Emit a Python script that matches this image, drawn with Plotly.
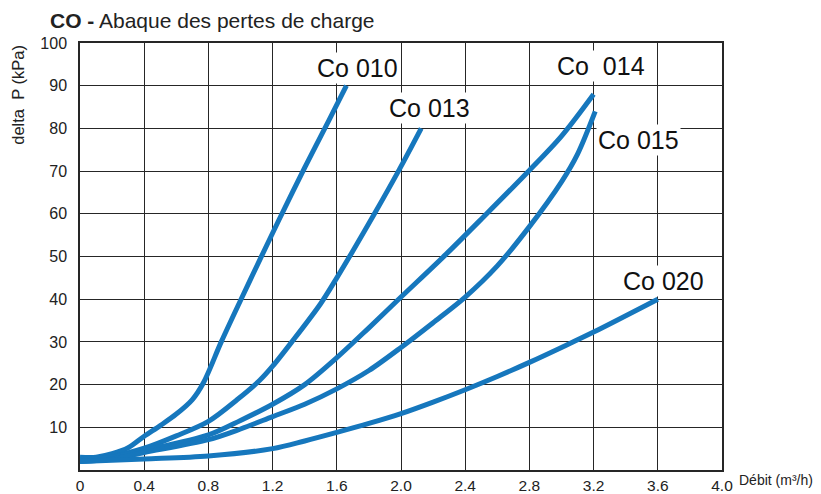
import plotly.graph_objects as go

# ---- data ----
co010_x = [0, 0.1, 0.2, 0.3, 0.4, 0.5, 0.6, 0.7, 0.77, 0.88, 1.0, 1.12, 1.24, 1.4, 1.55, 1.66]
co010_y = [3.0, 3.0, 3.8, 5.2, 7.9, 10.4, 13.1, 16.5, 20.5, 30, 39.7, 49.2, 58.6, 70.8, 81.8, 90]

co013_x = [0, 0.2, 0.4, 0.6, 0.8, 0.98, 1.12, 1.2, 1.32, 1.5, 1.6, 1.7, 1.83, 1.99, 2.126]
co013_y = [2.5, 3.2, 5.1, 8.0, 11.4, 16.5, 21.0, 24.3, 30, 39, 45, 51.3, 59.7, 70.4, 80]

co014_x = [0, 0.2, 0.4, 0.8, 1.0, 1.2, 1.4, 1.6, 1.8, 2.0, 2.28, 2.52, 2.79, 3.0, 3.2]
co014_y = [2.2, 3.0, 4.6, 8.2, 11.6, 15.4, 20, 26.3, 33.3, 40.5, 50.5, 59.5, 69.8, 78.2, 88]

co015_x = [0, 0.2, 0.4, 0.8, 1.0, 1.2, 1.4, 1.6, 1.8, 2.0, 2.2, 2.4, 2.6, 2.8, 3.0, 3.1, 3.21]
co015_y = [2.0, 2.6, 4.1, 7.1, 9.6, 12.5, 15.4, 19, 23.3, 28.7, 34.5, 40.5, 47.8, 57, 67.5, 74, 84]

co020_x = [0, 0.4, 0.8, 1.2, 1.4, 1.6, 1.8, 2.0, 2.2, 2.4, 2.6, 2.8, 3.0, 3.2, 3.6]
co020_y = [2.0, 2.6, 3.3, 5.0, 6.8, 8.8, 10.9, 13.2, 15.9, 18.8, 21.9, 25.2, 28.7, 32.3, 40]

series_names = ["Co 010", "Co 013", "Co 014", "Co 015", "Co 020"]
series_x = [co010_x, co013_x, co014_x, co015_x, co020_x]
series_y = [co010_y, co013_y, co014_y, co015_y, co020_y]

# label anchor positions (data coords)
label_x = [1.729, 2.178, 3.243, 3.48, 3.636]
label_y = [94.1, 84.7, 94.6, 77.2, 44.2]
label_text = ["Co 010", "Co 013", "Co  014", "Co 015", "Co 020"]

x_ticks = [0, 0.4, 0.8, 1.2, 1.6, 2.0, 2.4, 2.8, 3.2, 3.6, 4.0]
x_ticktext = ["0", "0.4", "0.8", "1.2", "1.6", "2.0", "2.4", "2.8", "3.2", "3.6", "4.0"]
y_ticks = [10, 20, 30, 40, 50, 60, 70, 80, 90, 100]

BLUE = "#1677bd"
GRID = "#262626"
FONT = "Liberation Sans, Arial, sans-serif"

fig = go.Figure()
for name, xs, ys in zip(series_names, series_x, series_y):
    fig.add_trace(go.Scatter(
        x=xs, y=ys, mode="lines", name=name,
        line=dict(color=BLUE, width=5, shape="spline", smoothing=0.9),
        hoverinfo="x+y+name",
    ))

for t, lx, ly in zip(label_text, label_x, label_y):
    fig.add_annotation(x=lx, y=ly, xref="x", yref="y", text=t, showarrow=False,
                       font=dict(family=FONT, size=25, color="#111"),
                       bgcolor="white", borderpad=1,
                       xanchor="center", yanchor="middle")

# title
fig.add_annotation(xref="paper", yref="paper", x=-0.0506, y=1, yshift=23,
                   xanchor="left", yanchor="middle", showarrow=False,
                   text="<b>CO -</b> Abaque des pertes de charge",
                   font=dict(family=FONT, size=21, color="#222"))
# y-axis title
fig.add_annotation(xref="paper", yref="paper", x=-0.0958, y=0.88,
                   xanchor="center", yanchor="middle", showarrow=False,
                   text="delta  P (kPa)", textangle=-90,
                   font=dict(family=FONT, size=16.5, color="#222"))
# x-axis title
fig.add_annotation(xref="paper", yref="paper", x=1, y=0, xshift=15, yshift=-10,
                   xanchor="left", yanchor="middle", showarrow=False,
                   text="Débit (m³/h)",
                   font=dict(family=FONT, size=14, color="#222"))

# page body has an 8 px margin: size/margins compensate so the plot area
# lands at the reference position (x 80..722, y 43..470)
fig.update_layout(
    width=813, height=486,
    margin=dict(l=72, r=99, t=35, b=24, autoexpand=False),
    paper_bgcolor="white", plot_bgcolor="white",
    showlegend=False,
    font=dict(family=FONT, size=16, color="#222"),
)
fig.update_xaxes(range=[0, 4], tickvals=x_ticks, ticktext=x_ticktext,
                 showgrid=True, gridcolor=GRID, gridwidth=1.3,
                 showline=True, linecolor=GRID, linewidth=1.5, mirror=True,
                 ticks="outside", ticklen=1, tickcolor="rgba(0,0,0,0)",
                 zeroline=False, tickfont=dict(size=15.5, color="#222"))
fig.update_yaxes(range=[0, 100], tickvals=y_ticks,
                 showgrid=True, gridcolor=GRID, gridwidth=1.3,
                 showline=True, linecolor=GRID, linewidth=1.5, mirror=True,
                 ticks="outside", ticklen=8, tickcolor="rgba(0,0,0,0)",
                 zeroline=False, tickfont=dict(size=16, color="#222"))

fig.write_html("out.html")
